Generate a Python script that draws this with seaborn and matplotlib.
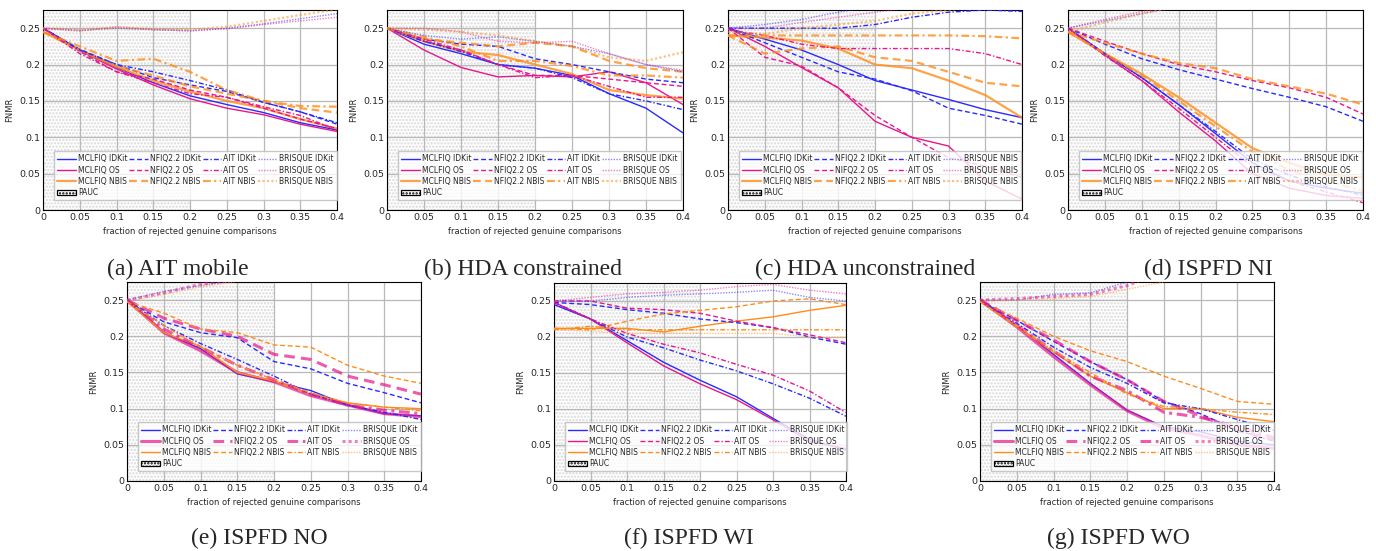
import numpy as np
import pandas as pd
import matplotlib
matplotlib.use("Agg")
import matplotlib.pyplot as plt
import matplotlib.patches as mpatches
import seaborn as sns

# ==========================================
# Data
# ==========================================
x_frac = [0.0, 0.05, 0.1, 0.15, 0.2, 0.25, 0.3, 0.35, 0.4]

methods = ["MCLFIQ", "NFIQ2.2", "AIT", "BRISQUE"]
extractors = ["IDKit", "OS", "NBIS"]

# rows: MCLFIQ IDKit/OS/NBIS, NFIQ2.2 IDKit/OS/NBIS, AIT ..., BRISQUE ...
ait_mobile = [
    [0.250, 0.220, 0.196, 0.175, 0.157, 0.145, 0.134, 0.120, 0.110],
    [0.250, 0.219, 0.194, 0.172, 0.153, 0.140, 0.131, 0.118, 0.108],
    [0.245, 0.220, 0.197, 0.178, 0.163, 0.150, 0.140, 0.125, 0.112],
    [0.250, 0.221, 0.200, 0.182, 0.172, 0.163, 0.148, 0.135, 0.118],
    [0.250, 0.218, 0.190, 0.180, 0.165, 0.155, 0.140, 0.125, 0.112],
    [0.245, 0.220, 0.198, 0.185, 0.170, 0.160, 0.150, 0.140, 0.134],
    [0.250, 0.220, 0.200, 0.190, 0.178, 0.165, 0.148, 0.135, 0.120],
    [0.250, 0.215, 0.190, 0.175, 0.160, 0.155, 0.142, 0.130, 0.110],
    [0.245, 0.225, 0.205, 0.208, 0.190, 0.165, 0.150, 0.143, 0.142],
    [0.250, 0.247, 0.250, 0.248, 0.246, 0.250, 0.256, 0.263, 0.270],
    [0.250, 0.246, 0.252, 0.248, 0.247, 0.249, 0.255, 0.260, 0.265],
    [0.250, 0.248, 0.251, 0.249, 0.248, 0.252, 0.260, 0.268, 0.276],
]
hda_con = [
    [0.250, 0.228, 0.215, 0.200, 0.195, 0.185, 0.160, 0.140, 0.106],
    [0.250, 0.220, 0.196, 0.183, 0.185, 0.183, 0.190, 0.175, 0.145],
    [0.250, 0.232, 0.218, 0.213, 0.200, 0.187, 0.165, 0.158, 0.153],
    [0.250, 0.235, 0.228, 0.225, 0.208, 0.200, 0.190, 0.180, 0.175],
    [0.250, 0.232, 0.220, 0.200, 0.185, 0.185, 0.180, 0.175, 0.170],
    [0.250, 0.235, 0.230, 0.225, 0.230, 0.225, 0.205, 0.195, 0.190],
    [0.250, 0.232, 0.218, 0.200, 0.195, 0.182, 0.160, 0.150, 0.138],
    [0.250, 0.235, 0.220, 0.200, 0.182, 0.185, 0.170, 0.155, 0.155],
    [0.250, 0.238, 0.225, 0.205, 0.205, 0.198, 0.185, 0.185, 0.182],
    [0.250, 0.240, 0.235, 0.238, 0.232, 0.225, 0.215, 0.200, 0.190],
    [0.250, 0.250, 0.245, 0.232, 0.230, 0.232, 0.215, 0.200, 0.192],
    [0.250, 0.248, 0.245, 0.240, 0.232, 0.225, 0.210, 0.205, 0.217],
]
hda_uncon = [
    [0.250, 0.235, 0.220, 0.200, 0.178, 0.165, 0.152, 0.138, 0.127],
    [0.250, 0.225, 0.196, 0.168, 0.122, 0.100, 0.088, 0.040, 0.015],
    [0.240, 0.237, 0.233, 0.222, 0.200, 0.195, 0.178, 0.158, 0.127],
    [0.250, 0.230, 0.210, 0.190, 0.180, 0.164, 0.140, 0.130, 0.118],
    [0.250, 0.210, 0.198, 0.168, 0.130, 0.100, 0.072, 0.060, 0.045],
    [0.240, 0.215, 0.222, 0.225, 0.210, 0.205, 0.190, 0.175, 0.170],
    [0.250, 0.250, 0.250, 0.250, 0.255, 0.265, 0.272, 0.275, 0.273],
    [0.248, 0.240, 0.228, 0.222, 0.222, 0.222, 0.222, 0.215, 0.200],
    [0.240, 0.240, 0.240, 0.240, 0.240, 0.240, 0.240, 0.239, 0.236],
    [0.250, 0.255, 0.262, 0.272, 0.280, 0.285, 0.290, 0.290, 0.290],
    [0.250, 0.250, 0.258, 0.265, 0.272, 0.278, 0.280, 0.285, 0.290],
    [0.245, 0.242, 0.250, 0.255, 0.260, 0.270, 0.275, 0.280, 0.280],
]
ispfd_ni = [
    [0.250, 0.215, 0.182, 0.145, 0.105, 0.065, 0.040, 0.030, 0.023],
    [0.250, 0.213, 0.178, 0.135, 0.095, 0.050, 0.030, 0.020, 0.016],
    [0.245, 0.215, 0.187, 0.155, 0.120, 0.085, 0.065, 0.048, 0.045],
    [0.250, 0.228, 0.208, 0.193, 0.180, 0.167, 0.155, 0.142, 0.122],
    [0.250, 0.232, 0.215, 0.200, 0.190, 0.178, 0.168, 0.155, 0.132],
    [0.245, 0.230, 0.215, 0.202, 0.195, 0.180, 0.170, 0.160, 0.145],
    [0.250, 0.215, 0.182, 0.145, 0.108, 0.070, 0.048, 0.032, 0.020],
    [0.250, 0.212, 0.178, 0.140, 0.100, 0.060, 0.040, 0.025, 0.010],
    [0.245, 0.215, 0.185, 0.150, 0.115, 0.080, 0.055, 0.040, 0.026],
    [0.250, 0.260, 0.270, 0.280, 0.290, 0.290, 0.290, 0.290, 0.290],
    [0.250, 0.262, 0.273, 0.280, 0.290, 0.290, 0.290, 0.290, 0.290],
    [0.245, 0.258, 0.270, 0.280, 0.290, 0.290, 0.290, 0.290, 0.290],
]
ispfd_no = [
    [0.250, 0.205, 0.183, 0.148, 0.137, 0.125, 0.105, 0.093, 0.090],
    [0.250, 0.205, 0.180, 0.150, 0.137, 0.118, 0.105, 0.093, 0.089],
    [0.248, 0.205, 0.186, 0.150, 0.138, 0.120, 0.108, 0.102, 0.100],
    [0.250, 0.220, 0.205, 0.198, 0.165, 0.155, 0.135, 0.122, 0.108],
    [0.250, 0.225, 0.210, 0.200, 0.175, 0.168, 0.145, 0.133, 0.120],
    [0.248, 0.232, 0.210, 0.205, 0.188, 0.185, 0.160, 0.145, 0.135],
    [0.250, 0.215, 0.190, 0.168, 0.145, 0.120, 0.105, 0.095, 0.085],
    [0.250, 0.210, 0.185, 0.160, 0.140, 0.120, 0.105, 0.098, 0.093],
    [0.248, 0.215, 0.185, 0.160, 0.140, 0.122, 0.108, 0.102, 0.097],
    [0.250, 0.262, 0.270, 0.278, 0.290, 0.290, 0.290, 0.290, 0.290],
    [0.250, 0.260, 0.272, 0.278, 0.290, 0.290, 0.290, 0.290, 0.290],
    [0.248, 0.258, 0.268, 0.276, 0.290, 0.290, 0.290, 0.290, 0.290],
]
ispfd_wi = [
    [0.245, 0.225, 0.195, 0.165, 0.140, 0.117, 0.087, 0.058, 0.043],
    [0.248, 0.225, 0.192, 0.160, 0.135, 0.113, 0.085, 0.055, 0.045],
    [0.212, 0.212, 0.212, 0.207, 0.215, 0.222, 0.228, 0.237, 0.244],
    [0.248, 0.245, 0.238, 0.233, 0.225, 0.220, 0.213, 0.200, 0.190],
    [0.250, 0.250, 0.240, 0.238, 0.233, 0.222, 0.213, 0.203, 0.192],
    [0.212, 0.210, 0.222, 0.232, 0.237, 0.242, 0.250, 0.253, 0.245],
    [0.248, 0.225, 0.200, 0.185, 0.168, 0.153, 0.135, 0.115, 0.090],
    [0.248, 0.225, 0.205, 0.190, 0.178, 0.162, 0.147, 0.125, 0.095],
    [0.210, 0.215, 0.210, 0.210, 0.210, 0.210, 0.210, 0.210, 0.210],
    [0.250, 0.250, 0.255, 0.258, 0.260, 0.262, 0.265, 0.255, 0.250],
    [0.250, 0.255, 0.260, 0.262, 0.265, 0.270, 0.273, 0.265, 0.260],
    [0.210, 0.208, 0.205, 0.205, 0.205, 0.205, 0.205, 0.200, 0.200],
]
ispfd_wo = [
    [0.250, 0.215, 0.175, 0.135, 0.098, 0.075, 0.068, 0.055, 0.050],
    [0.250, 0.213, 0.172, 0.133, 0.097, 0.073, 0.063, 0.050, 0.045],
    [0.248, 0.213, 0.178, 0.145, 0.122, 0.100, 0.100, 0.088, 0.082],
    [0.250, 0.222, 0.193, 0.165, 0.140, 0.110, 0.093, 0.070, 0.055],
    [0.250, 0.222, 0.195, 0.165, 0.140, 0.110, 0.090, 0.070, 0.057],
    [0.248, 0.225, 0.200, 0.180, 0.165, 0.145, 0.128, 0.110, 0.106],
    [0.250, 0.218, 0.185, 0.157, 0.135, 0.108, 0.100, 0.085, 0.070],
    [0.250, 0.215, 0.180, 0.145, 0.125, 0.095, 0.088, 0.075, 0.060],
    [0.248, 0.215, 0.180, 0.150, 0.120, 0.103, 0.100, 0.095, 0.092],
    [0.250, 0.250, 0.258, 0.260, 0.275, 0.290, 0.290, 0.290, 0.290],
    [0.250, 0.252, 0.255, 0.258, 0.270, 0.290, 0.290, 0.290, 0.290],
    [0.248, 0.250, 0.252, 0.255, 0.265, 0.275, 0.290, 0.290, 0.290],
]

captions = ["(a) AIT mobile", "(b) HDA constrained", "(c) HDA unconstrained",
            "(d) ISPFD NI", "(e) ISPFD NO", "(f) ISPFD WI", "(g) ISPFD WO"]

std_labels = [f"{m} {e}" for m in methods for e in extractors]
# panel (c) carries some typos in its legend
hda_uncon_labels = ["MCLFIQ IDKit", "MCLFIQ OS", "MCLFIQ NBIS",
                    "NFIQ2.2 IDKit", "NIFQ2.2 OS", "NFIQ2.2 NBIS",
                    "AIT IDKit", "AIT OS", "AIT NBIS",
                    "BRISQUE NBIS", "BRISQUE NBIS", "BRISQUE NBIS"]

# ==========================================
# Styling
# ==========================================
sns.set_style("white")
plt.rcParams['font.family'] = ['DejaVu Sans']
plt.rcParams['hatch.linewidth'] = 1.1
plt.rcParams['hatch.color'] = '#d8d8d8'

colors = {"IDKit": "#2a2aff", "OS": "#e8168c", "NBIS": "#ff8c1a"}
dashes = {"MCLFIQ": "-", "NFIQ2.2": (0, (3.5, 2)),
          "AIT": (0, (3.5, 1.5, 1, 1.5)), "BRISQUE": (0, (1, 1))}

W, H = 1376, 551
# axes boxes in pixels: left, right, top, bottom
boxes = [(43, 337, 10, 210), (387, 683, 10, 210), (728, 1022, 10, 210),
         (1068, 1363, 10, 210), (127, 421, 282, 481), (554, 846, 283, 481),
         (980, 1274, 282, 481)]
caption_pos = [(178, 269), (523, 269), (865, 269), (1208, 269),
               (259, 538), (689, 538), (1118, 538)]
panels = [ait_mobile, hda_con, hda_uncon, ispfd_ni, ispfd_no, ispfd_wi, ispfd_wo]

fig = plt.figure(figsize=(W / 100, H / 100), dpi=100)

for i, vals in enumerate(panels):
    l, r, t, b = boxes[i]
    ax = fig.add_axes([l / W, 1 - b / H, (r - l) / W, (b - t) / H])
    labels = hda_uncon_labels if i == 2 else std_labels

    # PAUC region
    ax.axvspan(0, 0.2, facecolor='white', hatch='.....', edgecolor='#d8d8d8',
               linewidth=0, zorder=0)

    handles = []
    k = 0
    for m in methods:
        for e in extractors:
            df = pd.DataFrame({"x": x_frac, "y": vals[k]})
            lw = 1.0
            alpha = 1.0
            if i < 4 and e == "NBIS":
                lw, alpha = 1.6, 0.8
            if i in (4, 6) and e == "OS":
                lw, alpha = 2.2, 0.7
            if m == "BRISQUE":
                alpha = 0.55
            sns.lineplot(data=df, x="x", y="y", ax=ax, color=colors[e],
                         linestyle=dashes[m], linewidth=lw, alpha=alpha, zorder=3)
            handles.append(plt.Line2D([], [], color=colors[e], linestyle=dashes[m],
                                      linewidth=lw, alpha=alpha, label=labels[k]))
            k += 1

    pauc = mpatches.Patch(facecolor='white', hatch='.....', edgecolor='black',
                          linewidth=0.9, label="PAUC")
    # column-wise order so that rows read IDKit / OS / NBIS / PAUC
    leg_handles = handles[0:3] + [pauc] + handles[3:]
    ax.legend(handles=leg_handles, ncol=4, fontsize=5.5, loc='lower left',
              bbox_to_anchor=(0.025, 0.03), frameon=True, fancybox=False,
              edgecolor='#bbbbbb', handlelength=2.4, handletextpad=0.3,
              columnspacing=0.25, labelspacing=0.3, borderpad=0.4)

    ax.set_xlim(0, 0.4)
    ax.set_ylim(0, 0.275)
    ax.set_xticks(np.arange(0, 0.41, 0.05))
    ax.set_yticks(np.arange(0, 0.26, 0.05))
    ax.set_xticklabels(["0", "0.05", "0.1", "0.15", "0.2", "0.25", "0.3", "0.35", "0.4"])
    ax.set_yticklabels(["0", "0.05", "0.1", "0.15", "0.2", "0.25"])
    ax.tick_params(axis='both', labelsize=6.8, direction='in', length=2, pad=2)
    ax.grid(True, color='#b8b8b8', linewidth=0.9, zorder=1)
    ax.set_axisbelow(True)
    ax.set_xlabel("fraction of rejected genuine comparisons", fontsize=6, labelpad=4)
    ax.set_ylabel("FNMR", fontsize=6, labelpad=4)
    for s in ax.spines.values():
        s.set_color('black')
        s.set_linewidth(0.8)

    cx, cy = caption_pos[i]
    fig.text(cx / W, 1 - cy / H, captions[i], ha='center', va='center',
             fontsize=17, family=['Liberation Serif', 'DejaVu Serif'])

fig.savefig("out.png", dpi=100)
